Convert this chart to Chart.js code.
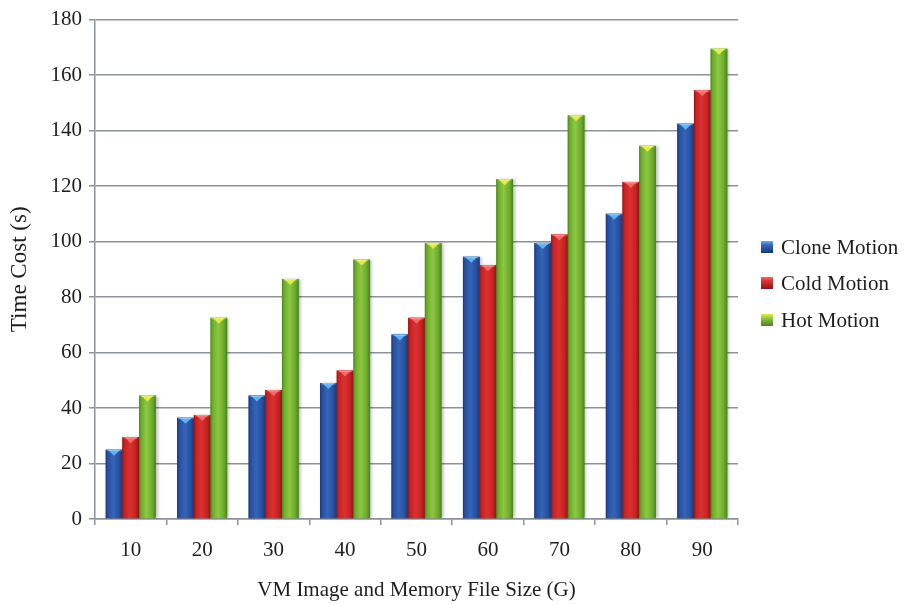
<!DOCTYPE html>
<html>
<head>
<meta charset="utf-8">
<script src="https://cdn.jsdelivr.net/npm/chart.js@4.4.1/dist/chart.umd.min.js"></script>
<style>
  html, body { margin: 0; padding: 0; background: #ffffff; }
  #wrap { width: 911px; height: 604px; }
</style>
</head>
<body>
<div id="wrap"><canvas id="c" width="911" height="604"></canvas></div>
<script>
// Image + memory file size (G)
const sizes = ['10', '20', '30', '40', '50', '60', '70', '80', '90'];
// Time cost in seconds for each migration mode
const cloneMotion = [25, 36.5, 44.5, 49, 66.5, 94.5, 99.5, 110, 142.5];
const coldMotion  = [29.5, 37.5, 46.5, 53.5, 72.5, 91.5, 102.5, 121.5, 154.5];
const hotMotion   = [44.5, 72.5, 86.5, 93.5, 99.5, 122.5, 145.5, 134.5, 169.5];
const seriesNames = ['Clone Motion', 'Cold Motion', 'Hot Motion'];

const FONT = "'Liberation Serif', 'Times New Roman', serif";
const TEXT = '#1e1e1e';
const GRID = '#8b929b';

// shading for the cylinder-like bars: left, middle, right, edge, cap
const shades = [
  { base: '#2a52a8', l: '#27509f', m: '#3564b8', r: '#1a3776', cap: '#5fb2ec' },
  { base: '#d02626', l: '#c62222', m: '#dc3030', r: '#8e1414', cap: '#ec6a6a' },
  { base: '#7dbb38', l: '#6cab2b', m: '#8ec843', r: '#4a831b', cap: '#e2ea4c' }
];

function barGradient(ctx, l, r, s) {
  const g = ctx.createLinearGradient(l, 0, r, 0);
  g.addColorStop(0, s.r);
  g.addColorStop(0.12, s.l);
  g.addColorStop(0.45, s.m);
  g.addColorStop(0.8, s.l);
  g.addColorStop(1, s.r);
  return g;
}

// paints each bar with a horizontal gradient and a small light cap
const shadedBars = {
  id: 'shadedBars',
  afterDatasetsDraw(chart) {
    const ctx = chart.ctx;
    const area = chart.chartArea;
    ctx.save();
    ctx.beginPath();
    ctx.rect(area.left, area.top - 2, area.right - area.left, area.bottom - area.top + 2);
    ctx.clip();
    chart.data.datasets.forEach((ds, di) => {
      const s = shades[di];
      chart.getDatasetMeta(di).data.forEach(bar => {
        const p = bar.getProps(['x', 'y', 'base', 'width'], true);
        const l = p.x - p.width / 2, r = p.x + p.width / 2;
        const h = p.base - p.y;
        ctx.save();
        ctx.shadowColor = 'rgba(0,0,0,0.28)';
        ctx.shadowBlur = 3;
        ctx.shadowOffsetX = 2;
        ctx.shadowOffsetY = 0;
        ctx.fillStyle = barGradient(ctx, l, r, s);
        ctx.fillRect(l, p.y, p.width, h);
        ctx.restore();
        // top cap: thin light strip with a downward triangle
        const capH = Math.min(6, h);
        ctx.fillStyle = s.cap;
        ctx.beginPath();
        ctx.moveTo(l + 2, p.y);
        ctx.lineTo(r - 2, p.y);
        ctx.lineTo(p.x, p.y + capH);
        ctx.closePath();
        ctx.fill();
        ctx.fillStyle = 'rgba(255,255,255,0.25)';
        ctx.fillRect(l + 1, p.y, p.width - 2, 1.5);
      });
    });
    ctx.restore();
  }
};

// legend drawn at the right of the plot
const sideLegend = {
  id: 'sideLegend',
  afterDraw(chart) {
    const ctx = chart.ctx;
    ctx.save();
    ctx.font = '21px ' + FONT;
    ctx.textBaseline = 'middle';
    ctx.textAlign = 'left';
    const x0 = 761, ys = [247, 283, 320], box = 12;
    seriesNames.forEach((name, i) => {
      const s = shades[i];
      const y = ys[i];
      const g = ctx.createLinearGradient(x0, y - box / 2, x0, y + box / 2);
      g.addColorStop(0, s.cap);
      g.addColorStop(0.35, s.m);
      g.addColorStop(1, s.r);
      ctx.fillStyle = g;
      ctx.fillRect(x0, y - box / 2, box, box);
      ctx.fillStyle = TEXT;
      ctx.fillText(name, 781, y + 1);
    });
    ctx.restore();
  }
};

new Chart(document.getElementById('c'), {
  type: 'bar',
  data: {
    labels: sizes,
    datasets: [
      { label: seriesNames[0], data: cloneMotion, backgroundColor: shades[0].base },
      { label: seriesNames[1], data: coldMotion,  backgroundColor: shades[1].base },
      { label: seriesNames[2], data: hotMotion,   backgroundColor: shades[2].base }
    ]
  },
  options: {
    responsive: false,
    animation: false,
    devicePixelRatio: 1,
    layout: { padding: { left: 0, right: 173, top: 17, bottom: 0 } },
    datasets: { bar: { categoryPercentage: 0.7, barPercentage: 1.0, borderWidth: 0 } },
    plugins: { legend: { display: false }, tooltip: { enabled: false } },
    scales: {
      x: {
        offset: true,
        grid: { offset: true, drawOnChartArea: false, drawTicks: true, tickLength: 6, color: GRID, lineWidth: 1.5 },
        border: { display: true, color: GRID, width: 1.5 },
        ticks: { color: TEXT, font: { family: FONT, size: 21 }, padding: 13, maxRotation: 0 },
        title: { display: true, text: 'VM Image and Memory File Size (G)', color: TEXT, font: { family: FONT, size: 21 }, padding: { top: 4, bottom: 1 } },
        afterFit(scale) { scale.height = 85; }
      },
      y: {
        min: 0, max: 180,
        ticks: { stepSize: 20, color: TEXT, font: { family: FONT, size: 21 }, padding: 7 },
        grid: { color: GRID, lineWidth: 1.5, drawTicks: true, tickLength: 6 },
        border: { display: true, color: GRID, width: 1.5 },
        title: { display: true, text: 'Time Cost (s)', color: TEXT, font: { family: FONT, size: 23 }, padding: { top: 6, bottom: 4 } },
        afterFit(scale) { scale.width = 95; }
      }
    }
  },
  plugins: [shadedBars, sideLegend]
});
</script>
</body>
</html>
